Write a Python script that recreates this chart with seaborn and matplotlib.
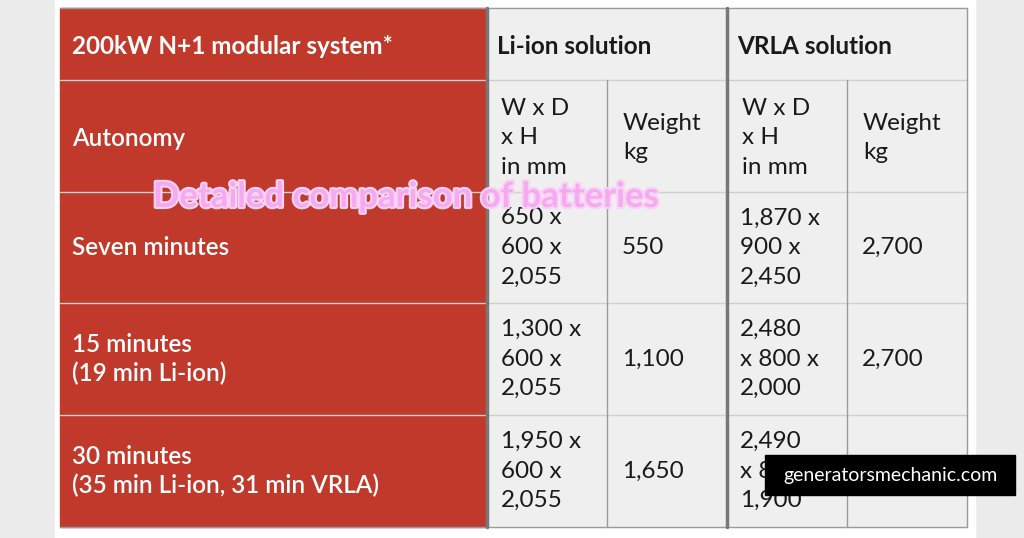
import matplotlib.pyplot as plt
import matplotlib.patches as patches
import matplotlib.patheffects as pe
import seaborn as sns

sns.set_theme(style="white")
plt.rcParams['font.family'] = ['Lato', 'DejaVu Sans']

header = ["200kW N+1 modular system*", "Li-ion solution", "VRLA solution"]
sub_header = ["Autonomy", "W x D\nx H\nin mm", "Weight\nkg", "W x D\nx H\nin mm", "Weight\nkg"]
autonomy = ["Seven minutes", "15 minutes\n(19 min Li-ion)", "30 minutes\n(35 min Li-ion, 31 min VRLA)"]
li_dims = ["650 x\n600 x\n2,055", "1,300 x\n600 x\n2,055", "1,950 x\n600 x\n2,055"]
li_weight = ["550", "1,100", "1,650"]
vrla_dims = ["1,870 x\n900 x\n2,450", "2,480\nx 800 x\n2,000", "2,490\nx 800 x\n1,900"]
vrla_weight = ["2,700", "2,700", ""]

fig = plt.figure(figsize=(10.24, 5.38), dpi=100)
fig.patch.set_facecolor("#ececec")
ax = fig.add_axes([0, 0, 1, 1])
ax.set_xlim(0, 1024)
ax.set_ylim(538, 0)
ax.axis("off")

ax.add_patch(patches.Rectangle((55, 0), 920, 538, color="white"))

red = "#c0392b"
grey = "#efefef"
line = "#9a9a9a"
xs = [60, 487, 607, 727, 847, 967]
ys = [8, 80, 192, 303, 415, 527]

ax.add_patch(patches.Rectangle((xs[0], ys[0]), xs[1] - xs[0], ys[-1] - ys[0], color=red))
ax.add_patch(patches.Rectangle((xs[1], ys[0]), xs[-1] - xs[1], ys[-1] - ys[0], color=grey))

# grid lines
for y in ys:
    ax.plot([xs[0], xs[-1]], [y, y], color="#d0d0d0" if y not in (ys[0], ys[-1]) else line, lw=1)
for x in [xs[2], xs[4]]:
    ax.plot([x, x], [ys[1], ys[-1]], color=line, lw=1)
for x in [xs[1], xs[3]]:
    ax.plot([x, x], [ys[0], ys[-1]], color="#777777", lw=2.5)
ax.plot([xs[-1], xs[-1]], [ys[0], ys[-1]], color=line, lw=1)

fs = 17.5
ls = 1.5
ax.text(72, 46, header[0], color="white", fontsize=fs, fontweight="bold", va="center")
ax.text(497, 46, header[1], color="#1a1a1a", fontsize=fs, fontweight="bold", va="center")
ax.text(737, 46, header[2], color="#1a1a1a", fontsize=fs, fontweight="bold", va="center")

ax.text(72, 138, sub_header[0], color="white", fontsize=fs, fontweight="semibold", va="center")
for i, x in enumerate([501, 623, 742, 863]):
    ax.text(x, 138, sub_header[i + 1], color="#1a1a1a", fontsize=fs, va="center", linespacing=ls)

for r in range(3):
    yc = (ys[r + 2] + ys[r + 3]) / 2
    ax.text(72, yc, autonomy[r], color="white", fontsize=fs, fontweight="semibold", va="center", linespacing=1.3)
    ax.text(501, yc, li_dims[r], color="#1a1a1a", fontsize=fs, va="center", linespacing=ls)
    ax.text(622, yc, li_weight[r], color="#1a1a1a", fontsize=fs, va="center")
    ax.text(740, yc, vrla_dims[r], color="#1a1a1a", fontsize=fs, va="center", linespacing=ls)
    ax.text(862, yc, vrla_weight[r], color="#1a1a1a", fontsize=fs, va="center")

ax.text(406, 197, "Detailed comparison of batteries", color="#f6a8f0", fontsize=25,
        fontweight="bold", ha="center", va="center",
        path_effects=[pe.withStroke(linewidth=3, foreground="#f8d3f3")])

ax.add_patch(patches.Rectangle((765, 455), 250, 40, color="black", zorder=5))
ax.text(890, 475, "generatorsmechanic.com", color="white", fontsize=14,
        ha="center", va="center", zorder=6)

fig.savefig("out.png", dpi=100)
